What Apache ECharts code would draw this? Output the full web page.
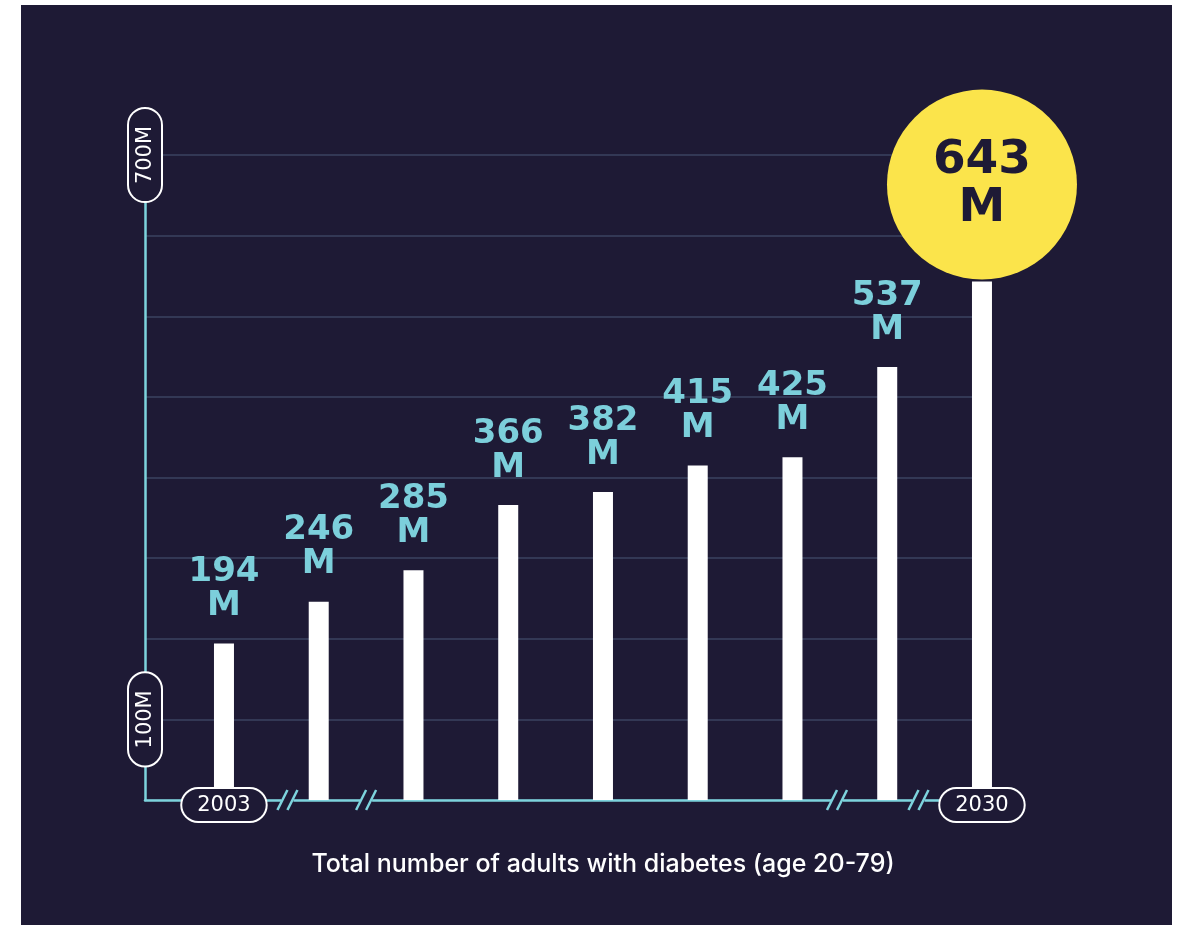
<!DOCTYPE html>
<html>
<head>
<meta charset="utf-8">
<script src="https://cdn.jsdelivr.net/npm/echarts@6/dist/echarts.min.js"></script>
<style>
  html, body { margin: 0; padding: 0; background: #ffffff; }
  #c { position: absolute; left: 21px; top: 5px; width: 1151px; height: 920px; }
</style>
</head>
<body>
<div id="c"></div>
<script>
// ---- data ----
const years = ['2003', '2006', '2009', '2011', '2013', '2015', '2017', '2021', '2030'];
const adultsMillions = [194, 246, 285, 366, 382, 415, 425, 537, 643];
const xTickLabels = ['2003', '', '', '', '', '', '', '', '2030'];
const yTickValues = [100, 800];
const yTickLabels = ['100M', '700M'];
// axis-break marks, as fractional category positions
const breakPositions = [0.67, 1.5, 6.47, 7.33];
const chartTitle = 'Total number of adults with diabetes (age 20-79)';

// ---- style ----
const BG = '#1e1a35';
const CYAN = '#7dd3dd';
const LABEL_CYAN = '#7ccfdb';
const YELLOW = '#fbe44b';
const GRIDLINE = '#3b4360';
const NUMFONT = 'DejaVu Sans';

const chart = echarts.init(document.getElementById('c'), null, { renderer: 'canvas' });
const last = adultsMillions.length - 1;

const pill = {
  color: '#ffffff', fontSize: 21, fontFamily: NUMFONT,
  backgroundColor: BG, borderColor: '#ffffff', borderWidth: 2,
  borderRadius: 17, padding: [6, 15, 5, 15]
};

const option = {
  backgroundColor: BG,
  animation: false,
  grid: [
    { left: 124, top: 150, width: 837, height: 645 },
    { left: 155.6, top: 150, width: 852.75, height: 645 }
  ],
  xAxis: [
    { gridIndex: 0, type: 'value', min: 0, max: 1, z: 1,
      axisLine: { show: true, lineStyle: { color: CYAN, width: 2.5 } },
      axisTick: { show: false }, axisLabel: { show: false }, splitLine: { show: false } },
    { gridIndex: 1, type: 'category', data: years, z: 10,
      axisLine: { show: false }, axisTick: { show: false }, splitLine: { show: false },
      axisLabel: {
        interval: 0, margin: 5, verticalAlign: 'middle', align: 'center',
        formatter: (v, i) => xTickLabels[i] ? '{p|' + xTickLabels[i] + '}' : '',
        rich: { p: pill }
      } }
  ],
  yAxis: [
    { gridIndex: 0, type: 'value', min: 0, max: 800, interval: 100, z: 0,
      axisLine: { show: true, lineStyle: { color: CYAN, width: 2.5 } },
      axisTick: { show: false },
      splitLine: { show: true, lineStyle: { color: GRIDLINE, width: 1.5 } },
      axisLabel: {
        rotate: 90, margin: 0, align: 'center', verticalAlign: 'middle',
        formatter: (v) => { const k = yTickValues.indexOf(v); return k >= 0 ? '{p|' + yTickLabels[k] + '}' : ''; },
        rich: { p: Object.assign({}, pill, { padding: [6, 17, 5, 17] }) }
      } },
    { gridIndex: 1, type: 'value', min: 0, max: 800, show: false }
  ],
  graphic: [
    { type: 'text', x: 582, y: 859,
      style: { text: chartTitle, fill: '#ffffff', font: '500 25px Inter', align: 'center', verticalAlign: 'middle' } }
  ],
  series: [
    {
      type: 'bar', xAxisIndex: 1, yAxisIndex: 1, barWidth: 20, z: 3,
      itemStyle: { color: '#ffffff' },
      label: {
        show: true, position: 'top', distance: 20,
        color: LABEL_CYAN, fontFamily: NUMFONT, fontWeight: 'bold', fontSize: 34, lineHeight: 34,
        formatter: (p) => p.value + '\nM'
      },
      data: adultsMillions.map((v, i) => i === last ? { value: v, label: { show: false } } : v)
    },
    {
      type: 'scatter', xAxisIndex: 1, yAxisIndex: 1, z: 4,
      symbol: 'circle', symbolSize: 190, symbolOffset: [0, -97],
      itemStyle: { color: YELLOW, opacity: 1 },
      label: {
        show: true, position: 'inside', color: BG, fontFamily: NUMFONT, fontWeight: 'bold',
        fontSize: 47, lineHeight: 48,
        formatter: (p) => p.value[1] + '\nM'
      },
      data: [[years[last], adultsMillions[last]]]
    },
    {
      type: 'custom', xAxisIndex: 1, yAxisIndex: 1, z: 12,
      data: breakPositions.map((p) => [Math.floor(p), 0]),
      renderItem: (params, api) => {
        const pos = breakPositions[params.dataIndex];
        const i0 = Math.floor(pos);
        const a = api.coord([i0, 0]);
        const b = api.coord([i0 + 1, 0]);
        const x = a[0] + (b[0] - a[0]) * (pos - i0);
        const y = a[1];
        const mk = (cx) => ({ type: 'line', shape: { x1: cx - 5, y1: y + 10, x2: cx + 5, y2: y - 10 },
          style: { stroke: CYAN, lineWidth: 2.5 } });
        return { type: 'group', children: [
          { type: 'rect', shape: { x: x - 6, y: y - 3, width: 12, height: 6 }, style: { fill: BG } },
          mk(x - 5), mk(x + 5)
        ] };
      }
    }
  ]
};
chart.setOption(option);
</script>
</body>
</html>
